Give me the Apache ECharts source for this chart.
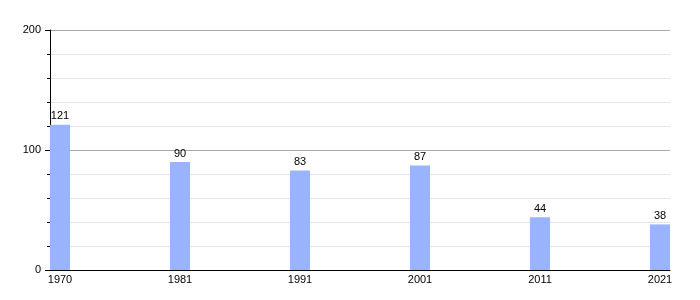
<!DOCTYPE html>
<html><head><meta charset="utf-8">
<script src="https://cdn.jsdelivr.net/npm/echarts@6/dist/echarts.min.js"></script>
<style>html,body{margin:0;padding:0;background:#fff}#c{width:700px;height:300px}</style>
</head><body><div id="c"></div>
<script>
const years = ['1970','1981','1991','2001','2011','2021'];
const values = [121, 90, 83, 87, 44, 38];
const yTicks = [0, 100, 200];

const idx = years.map((_, i) => i);
const chart = echarts.init(document.getElementById('c'), null, {renderer: 'canvas'});
const font = 'Liberation Sans, Arial, sans-serif';
chart.setOption({
  animation: false,
  grid: {left: 50, right: 30, top: 30, bottom: 30},
  xAxis: {
    type: 'value', min: -1/12, max: years.length - 1 + 1/12,
    axisLine: {show: true, onZero: false, lineStyle: {color: '#000', width: 1}},
    axisTick: {show: false},
    splitLine: {show: false},
    axisLabel: {
      customValues: idx, margin: 4, color: '#000', fontSize: 11, fontFamily: font,
      formatter: v => years[Math.round(v)]
    }
  },
  yAxis: {
    type: 'value', min: yTicks[0], max: yTicks[yTicks.length - 1], interval: 100,
    axisLine: {show: true, onZero: false, lineStyle: {color: '#000', width: 1}},
    axisTick: {show: true, length: 5, lineStyle: {color: '#000'}},
    minorTick: {show: true, splitNumber: 5, length: 3, lineStyle: {color: '#000'}},
    splitLine: {show: true, lineStyle: {color: '#a8a8a8', width: 1}},
    minorSplitLine: {show: true, lineStyle: {color: '#e4e4e4', width: 1}},
    axisLabel: {margin: 9, color: '#000', fontSize: 11, fontFamily: font}
  },
  series: [{
    type: 'bar',
    data: values.map((v, i) => [i, v]),
    barWidth: 20,
    itemStyle: {color: '#99b3ff'},
    label: {show: true, position: 'top', distance: 3, color: '#000', fontSize: 11, fontFamily: font}
  }]
});
</script></body></html>
